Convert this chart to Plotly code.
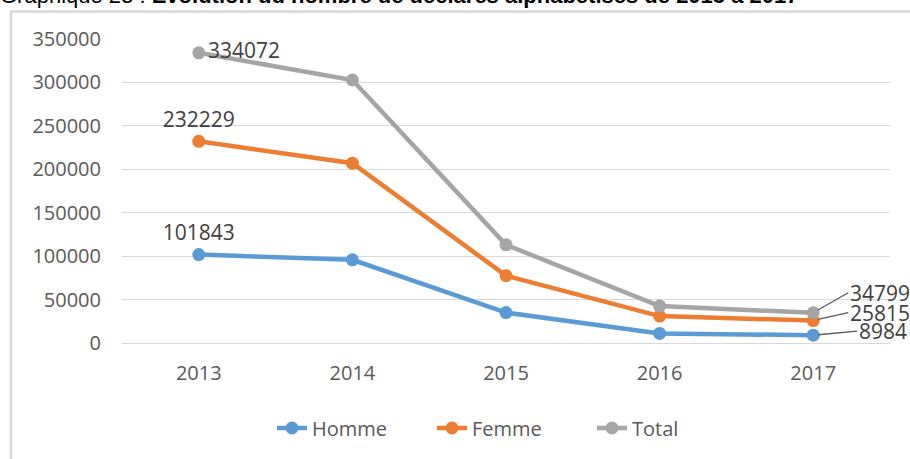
import plotly.graph_objects as go

years = ["2013", "2014", "2015", "2016", "2017"]
homme = [101843, 95800, 35000, 11000, 8984]
femme = [232229, 207000, 77500, 31000, 25815]
total = [334072, 302800, 113000, 42500, 34799]
y_ticks = [0, 50000, 100000, 150000, 200000, 250000, 300000, 350000]
title_prefix = "Graphique 23 : "
title_main = "Evolution du nombre de déclarés alphabétisés de 2013 à 2017"

colors = {"Homme": "#5B9BD5", "Femme": "#ED7D31", "Total": "#A5A5A5"}
FONT = "Open Sans"

W, H = 910, 459
L, R, T, B = 122, 20, 39, 116
pw, ph = W - L - R, H - T - B

def px2x(p):
    return (p - L) / pw

def px2y(p):
    return 1 + (T - p) / ph

fig = go.Figure()

def text_list(vals, idx):
    return [str(v) if i == idx else "" for i, v in enumerate(vals)]

for name, vals, pos in [("Homme", homme, "top center"), ("Femme", femme, "top center"),
                        ("Total", total, "middle right")]:
    fig.add_trace(go.Scatter(
        x=years, y=vals, name=name, mode="lines+markers+text",
        line=dict(color=colors[name], width=4.5), marker=dict(size=13, color=colors[name]),
        text=text_list(vals, 0), textposition=pos,
        textfont=dict(family=FONT, size=21, color="#404040"),
    ))

# leader-line labels for 2017 (category index of last year)
last = len(years) - 1
for vals, ax, ay in [(total, 35, -20), (femme, 35, -8), (homme, 44, -4)]:
    fig.add_annotation(
        x=last, y=vals[-1], xref="x", yref="y", text=str(vals[-1]),
        showarrow=True, arrowhead=0, arrowwidth=1.3, arrowcolor="#595959",
        ax=ax, ay=ay, xanchor="left", yanchor="middle", standoff=5,
        font=dict(family=FONT, size=21, color="#404040"),
    )

# clipped title at top
fig.add_annotation(
    x=px2x(-2), y=px2y(10), xref="paper", yref="paper", xanchor="left", yanchor="bottom",
    text=title_prefix + "<b>" + title_main + "</b>", showarrow=False,
    font=dict(family="Liberation Sans", size=22, color="#000000"),
)

# chart frame
fig.add_shape(type="rect", xref="paper", yref="paper",
              x0=px2x(11), x1=px2x(960), y0=px2y(11.5), y1=px2y(520),
              line=dict(color="#D9D9D9", width=2.5), fillcolor="rgba(0,0,0,0)", layer="below")

fig.update_layout(
    width=W, height=H,
    margin=dict(l=L, r=R, t=T, b=B),
    paper_bgcolor="white", plot_bgcolor="white",
    font=dict(family=FONT, size=20, color="#595959"),
    showlegend=True,
    legend=dict(orientation="h", x=px2x(272), xanchor="left", y=px2y(428), yanchor="middle",
                font=dict(family=FONT, size=20, color="#595959"), itemwidth=30,
                entrywidth=115, bgcolor="rgba(0,0,0,0)"),
    xaxis=dict(type="category", range=[-0.5, 4.5], showgrid=False, showline=False,
               zeroline=False, ticks="", ticklabelstandoff=16,
               tickfont=dict(family=FONT, size=20, color="#595959")),
    yaxis=dict(range=[0, 350000], tickvals=y_ticks, ticktext=[str(v) for v in y_ticks],
               showgrid=True, gridcolor="#D9D9D9", gridwidth=1,
               zeroline=True, zerolinecolor="#D9D9D9", zerolinewidth=1,
               showline=False, ticks="", ticklabelstandoff=20,
               tickfont=dict(family=FONT, size=20, color="#595959")),
)

fig.write_html("out.html", config={"displayModeBar": False},
               post_script="document.body.style.margin='0';document.body.style.overflow='hidden';")
